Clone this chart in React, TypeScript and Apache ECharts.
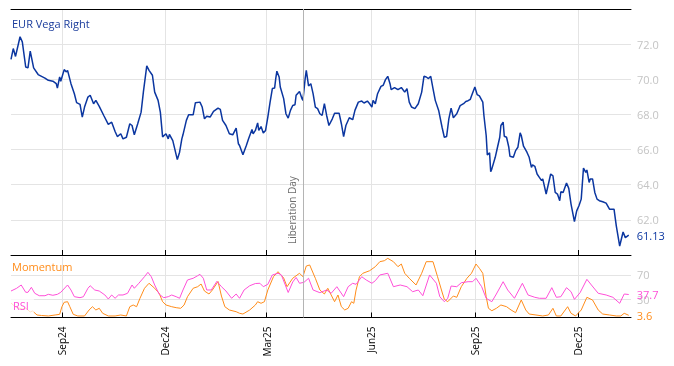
import React, { useEffect, useRef } from "react";
import * as echarts from "echarts";

// ---------- data ----------
const vegaDates = [
  "2024-07-18","2024-07-20","2024-07-22","2024-07-26","2024-07-28","2024-07-31","2024-08-02","2024-08-04","2024-08-07","2024-08-11",
  "2024-08-14","2024-08-17","2024-08-20","2024-08-24","2024-08-27","2024-08-28","2024-08-30","2024-08-31","2024-09-03","2024-09-05",
  "2024-09-06","2024-09-09","2024-09-12","2024-09-14","2024-09-17","2024-09-19","2024-09-21","2024-09-24","2024-09-26","2024-09-29",
  "2024-10-01","2024-10-04","2024-10-08","2024-10-12","2024-10-15","2024-10-18","2024-10-20","2024-10-23","2024-10-25","2024-10-28",
  "2024-10-31","2024-11-02","2024-11-04","2024-11-07","2024-11-10","2024-11-12","2024-11-15","2024-11-17","2024-11-20","2024-11-22",
  "2024-11-25","2024-11-27","2024-11-29","2024-12-02","2024-12-04","2024-12-05","2024-12-08","2024-12-12","2024-12-14","2024-12-16",
  "2024-12-17","2024-12-20","2024-12-22","2024-12-26","2024-12-28","2025-01-01","2025-01-03","2025-01-05","2025-01-07","2025-01-10",
  "2025-01-13","2025-01-17","2025-01-19","2025-01-21","2025-01-24","2025-01-27","2025-01-30","2025-02-02","2025-02-04","2025-02-05",
  "2025-02-08","2025-02-11","2025-02-13","2025-02-16","2025-02-17","2025-02-19","2025-02-21","2025-02-22","2025-02-24","2025-02-26",
  "2025-02-28","2025-03-02","2025-03-04","2025-03-06","2025-03-08","2025-03-09","2025-03-10","2025-03-12","2025-03-13","2025-03-16",
  "2025-03-18","2025-03-20","2025-03-22","2025-03-24","2025-03-26","2025-03-27","2025-03-30","2025-04-01","2025-04-02","2025-04-04",
  "2025-04-05","2025-04-07","2025-04-09","2025-04-11","2025-04-13","2025-04-15","2025-04-17","2025-04-19","2025-04-21","2025-04-23",
  "2025-04-25","2025-04-28","2025-04-30","2025-05-04","2025-05-06","2025-05-08","2025-05-10","2025-05-13","2025-05-16","2025-05-18",
  "2025-05-21","2025-05-24","2025-05-26","2025-05-29","2025-05-31","2025-06-02","2025-06-03","2025-06-05","2025-06-07","2025-06-10",
  "2025-06-12","2025-06-14","2025-06-16","2025-06-18","2025-06-19","2025-06-22","2025-06-25","2025-06-28","2025-07-01","2025-07-03",
  "2025-07-05","2025-07-07","2025-07-10","2025-07-13","2025-07-16","2025-07-18","2025-07-20","2025-07-22","2025-07-24","2025-07-26",
  "2025-07-28","2025-07-31","2025-08-03","2025-08-05","2025-08-07","2025-08-09","2025-08-11","2025-08-13","2025-08-16","2025-08-19",
  "2025-08-22","2025-08-24","2025-08-26","2025-08-28","2025-08-29","2025-09-01","2025-09-03","2025-09-05","2025-09-08","2025-09-09",
  "2025-09-11","2025-09-12","2025-09-14","2025-09-15","2025-09-16","2025-09-19","2025-09-21","2025-09-23","2025-09-24","2025-09-26",
  "2025-09-27","2025-09-29","2025-10-01","2025-10-02","2025-10-05","2025-10-07","2025-10-09","2025-10-11","2025-10-12","2025-10-14",
  "2025-10-17","2025-10-19","2025-10-21","2025-10-22","2025-10-24","2025-10-26","2025-10-28","2025-10-30","2025-10-31","2025-11-03",
  "2025-11-05","2025-11-07","2025-11-09","2025-11-11","2025-11-13","2025-11-15","2025-11-16","2025-11-18","2025-11-21","2025-11-23",
  "2025-11-25","2025-11-28","2025-11-30","2025-12-02","2025-12-04","2025-12-06","2025-12-08","2025-12-09","2025-12-11","2025-12-12",
  "2025-12-14","2025-12-16","2025-12-18","2025-12-20","2025-12-23","2025-12-26","2025-12-29","2026-01-02","2026-01-04","2026-01-07",
  "2026-01-10","2026-01-12","2026-01-15"
];
const vegaValues = [
  71.13,71.75,71.30,72.42,72.13,70.70,70.65,71.60,70.65,70.27,
  70.17,70.07,69.94,69.89,69.75,69.50,70.13,69.89,70.55,70.42,
  70.51,69.75,69.18,68.67,68.57,67.85,68.42,68.99,69.09,68.61,
  68.80,68.46,67.94,67.43,67.56,67.03,66.74,66.90,66.61,66.70,
  67.47,67.37,66.84,67.47,68.13,69.27,70.76,70.51,70.23,69.27,
  68.80,68.13,66.72,66.90,66.61,66.86,66.51,65.43,65.85,66.61,
  66.84,67.66,67.98,67.98,68.67,68.70,68.42,67.75,67.90,67.85,
  68.17,68.36,68.29,67.66,67.37,66.90,66.84,67.22,66.33,66.23,
  65.71,66.23,66.61,67.14,66.90,67.09,67.52,67.09,67.31,66.95,
  67.09,67.85,68.70,69.47,69.50,70.04,70.46,70.13,69.56,68.90,
  68.04,67.79,68.23,68.51,68.55,69.09,69.31,68.93,68.80,70.04,
  70.51,69.62,69.75,69.18,68.42,68.33,68.04,67.94,68.61,67.94,
  67.37,67.75,68.07,68.07,67.47,66.74,67.37,67.81,67.70,68.23,
  68.70,68.76,68.65,68.76,68.61,68.42,68.80,68.61,69.18,69.60,
  69.66,69.98,70.17,69.75,69.41,69.53,69.41,69.53,69.27,69.47,
  68.70,68.42,68.33,68.61,69.27,70.17,70.13,70.04,70.17,69.47,
  68.80,68.23,67.27,66.70,66.74,67.75,68.36,67.81,68.04,68.50,
  68.61,68.74,68.78,68.86,69.05,69.56,69.13,69.05,68.70,67.94,
  66.80,65.70,65.81,64.74,64.90,65.56,66.13,66.70,67.37,67.56,
  66.76,66.70,66.13,65.62,65.56,65.94,66.13,66.95,66.80,66.19,
  65.85,65.56,64.99,65.13,65.05,64.61,64.42,64.23,64.33,63.47,
  64.04,64.61,64.51,63.56,63.47,63.09,63.60,63.56,64.10,63.79,
  62.90,61.90,62.51,62.80,63.18,64.95,64.70,64.84,64.13,64.33,
  64.33,63.56,63.18,63.09,63.03,62.95,62.61,62.61,61.66,60.51,
  61.31,60.99,61.13
];

const momentumDates = [
  "2024-07-18","2024-07-22","2024-07-28","2024-07-31","2024-08-04","2024-08-06","2024-08-10","2024-08-14","2024-08-20","2024-08-26",
  "2024-08-30","2024-09-01","2024-09-03","2024-09-06","2024-09-08","2024-09-11","2024-09-15","2024-09-21","2024-09-25","2024-09-28",
  "2024-10-01","2024-10-04","2024-10-07","2024-10-12","2024-10-18","2024-10-23","2024-10-28","2024-10-31","2024-11-03","2024-11-06",
  "2024-11-09","2024-11-13","2024-11-17","2024-11-22","2024-11-26","2024-11-29","2024-12-02","2024-12-07","2024-12-11","2024-12-15",
  "2024-12-18","2024-12-21","2024-12-26","2024-12-30","2025-01-02","2025-01-05","2025-01-09","2025-01-12","2025-01-17","2025-01-20",
  "2025-01-23","2025-01-27","2025-02-02","2025-02-05","2025-02-08","2025-02-14","2025-02-19","2025-02-21","2025-02-24","2025-02-27",
  "2025-03-02","2025-03-07","2025-03-11","2025-03-16","2025-03-19","2025-03-24","2025-03-30","2025-04-02","2025-04-05","2025-04-08",
  "2025-04-13","2025-04-17","2025-04-21","2025-04-24","2025-04-27","2025-04-30","2025-05-03","2025-05-06","2025-05-09","2025-05-12",
  "2025-05-15","2025-05-17","2025-05-19","2025-05-22","2025-05-25","2025-05-31","2025-06-05","2025-06-09","2025-06-13","2025-06-16",
  "2025-06-21","2025-06-25","2025-06-28","2025-07-01","2025-07-05","2025-07-11","2025-07-16","2025-07-20","2025-07-26","2025-07-30",
  "2025-08-03","2025-08-05","2025-08-08","2025-08-13","2025-08-16","2025-08-20","2025-08-25","2025-08-29","2025-09-02","2025-09-05",
  "2025-09-08","2025-09-11","2025-09-13","2025-09-16","2025-09-20","2025-09-24","2025-09-29","2025-10-03","2025-10-07","2025-10-12",
  "2025-10-16","2025-10-19","2025-10-25","2025-10-31","2025-11-05","2025-11-09","2025-11-12","2025-11-16","2025-11-22","2025-11-25",
  "2025-11-29","2025-12-04","2025-12-09","2025-12-14","2025-12-19","2025-12-23","2025-12-29","2026-01-04","2026-01-08","2026-01-11",
  "2026-01-15"
];
const momentumValues = [
  23.8,17.2,13.9,15.6,9.0,10.7,4.1,3.3,2.5,4.1,
  5.2,17.7,24.9,25.9,17.7,5.2,2.5,2.5,12.3,17.7,
  12.3,15.1,6.9,2.5,2.5,4.1,2.5,17.7,20.5,17.7,
  31.5,47.9,56.1,47.9,39.7,25.9,20.5,17.7,16.1,15.1,
  20.5,34.1,47.9,50.5,54.9,43.4,38.5,45.1,59.0,35.2,
  17.7,12.3,9.5,6.9,5.7,12.3,20.5,25.9,23.3,25.9,
  45.1,66.9,75.1,64.8,50.5,64.3,72.5,66.9,84.4,86.1,
  64.3,45.1,38.5,47.9,36.9,25.9,36.9,17.7,12.3,15.1,
  25.9,23.3,45.1,66.9,72.5,76.7,83.3,91.5,93.1,97.0,
  91.5,83.3,87.7,72.5,64.3,53.3,72.5,91.5,91.5,66.9,
  41.8,29.8,25.9,35.2,33.1,50.5,64.3,72.5,87.7,80.7,
  72.5,34.1,15.1,11.1,15.1,20.5,17.7,12.3,7.9,28.7,
  12.3,5.7,4.1,2.5,4.1,15.1,2.5,2.5,17.7,6.9,
  2.5,12.3,33.1,28.7,12.3,5.7,4.1,2.5,2.5,6.9,
  3.6
];

const rsiDates = [
  "2024-07-18","2024-07-23","2024-07-27","2024-07-31","2024-08-02","2024-08-05","2024-08-08","2024-08-12","2024-08-17","2024-08-20",
  "2024-08-24","2024-08-28","2024-08-31","2024-09-06","2024-09-09","2024-09-12","2024-09-17","2024-09-20","2024-09-24","2024-09-26",
  "2024-09-30","2024-10-04","2024-10-09","2024-10-12","2024-10-15","2024-10-18","2024-10-21","2024-10-25","2024-10-29","2024-11-02",
  "2024-11-04","2024-11-08","2024-11-13","2024-11-16","2024-11-19","2024-11-22","2024-11-26","2024-11-30","2024-12-04","2024-12-07",
  "2024-12-11","2024-12-14","2024-12-17","2024-12-21","2024-12-26","2024-12-30","2025-01-01","2025-01-04","2025-01-07","2025-01-11",
  "2025-01-16","2025-01-20","2025-01-24","2025-01-29","2025-02-02","2025-02-05","2025-02-09","2025-02-14","2025-02-19","2025-02-23",
  "2025-02-26","2025-03-02","2025-03-06","2025-03-11","2025-03-14","2025-03-20","2025-03-24","2025-03-27","2025-03-30","2025-04-03",
  "2025-04-07","2025-04-11","2025-04-17","2025-04-23","2025-04-27","2025-05-02","2025-05-08","2025-05-12","2025-05-16","2025-05-19",
  "2025-05-24","2025-05-28","2025-06-02","2025-06-05","2025-06-09","2025-06-16","2025-06-21","2025-06-27","2025-07-03","2025-07-08",
  "2025-07-13","2025-07-17","2025-07-23","2025-07-29","2025-08-01","2025-08-05","2025-08-08","2025-08-11","2025-08-16","2025-08-20",
  "2025-08-26","2025-08-30","2025-09-02","2025-09-07","2025-09-11","2025-09-16","2025-09-20","2025-09-26","2025-09-30","2025-10-06",
  "2025-10-13","2025-10-18","2025-10-24","2025-10-28","2025-11-03","2025-11-08","2025-11-12","2025-11-16","2025-11-21","2025-11-25",
  "2025-11-28","2025-12-03","2025-12-09","2025-12-13","2025-12-19","2025-12-26","2026-01-01","2026-01-07","2026-01-11","2026-01-15"
];
const rsiValues = [
  43.4,47.9,53.3,41.3,41.3,49.5,39.7,35.7,35.7,38.0,
  36.4,38.0,41.3,53.3,45.1,34.1,32.5,34.1,47.9,52.1,
  45.1,43.4,36.9,30.3,36.9,31.5,36.9,36.9,39.7,53.3,
  47.9,56.1,66.9,74.1,66.9,53.3,38.0,32.5,34.1,36.9,
  34.1,31.5,45.1,61.5,64.3,68.5,70.8,64.3,45.1,45.1,
  59.3,50.5,43.4,31.5,38.5,31.5,45.1,52.1,55.7,56.1,
  50.5,54.4,69.7,72.5,69.7,41.0,58.2,65.6,56.1,57.7,
  64.3,45.1,40.7,45.1,39.7,50.5,34.1,50.5,56.1,54.4,
  66.9,61.5,56.1,60.3,69.7,72.5,50.5,53.3,50.5,42.3,
  45.1,35.7,69.7,56.1,34.1,25.9,31.5,51.6,50.5,57.0,
  58.7,58.7,64.3,50.5,31.5,25.9,38.5,58.7,45.1,31.5,
  56.1,36.9,33.1,31.5,31.5,48.9,33.1,34.1,48.9,42.3,
  29.8,40.7,62.6,53.3,39.7,36.9,33.1,23.3,38.5,37.7
];

const tickDates = ["2024-09-01","2024-12-01","2025-03-01","2025-06-01","2025-09-01","2025-12-01"];
const tickLabels = ["Sep24","Dec24","Mar25","Jun25","Sep25","Dec25"];
const axisStart = "2024-07-18";
const axisEnd = "2026-01-17";
const eventDate = "2025-04-02";
const eventLabel = "Liberation Day";
const oscTicks = [30, 70];

// ---------- helpers ----------
function toTime(s: string): number {
  const [y, m, d] = s.split("-").map(Number);
  return Date.UTC(y, m - 1, d);
}
const FONT = '"Open Sans", "Noto Sans", sans-serif';
const BLUE = "#0b36a0";
const ORANGE = "#ff8c1a";
const PINK = "#ff4fd8";
const GRID = "#e4e4e4";
const AXISLBL = "#c4c4c4";

export default function App() {
  const ref = useRef<HTMLDivElement>(null);
  useEffect(() => {
    if (!ref.current) return;
    const chart = echarts.init(ref.current, null, { renderer: "svg" });
    const tickTimes = tickDates.map(toTime);
    const xMin = toTime(axisStart);
    const xMax = toTime(axisEnd);
    const fmtX = (v: number) => {
      const i = tickTimes.indexOf(v);
      return i >= 0 ? tickLabels[i] : "";
    };
    const pairs = (ds: string[], vs: number[]) => ds.map((d, i) => [toTime(d), vs[i]]);

    const baseX = {
      type: "value",
      min: xMin,
      max: xMax,
      axisLine: { show: true, onZero: false, lineStyle: { color: "#000", width: 1 } },
      axisTick: { show: true, inside: true, length: 5, customValues: tickTimes, lineStyle: { color: "#000" } },
      splitLine: { show: true, lineStyle: { color: GRID, width: 1 } },
    };

    const option: any = {
      animation: false,
      textStyle: { fontFamily: FONT },
      title: [
        { text: "EUR Vega Right", left: 12, top: 18, padding: 0, textStyle: { fontSize: 11, fontWeight: "normal", color: "#1a3c9c", fontFamily: FONT } },
        { text: "Momentum", left: 12, top: 261, padding: 0, textStyle: { fontSize: 11, fontWeight: "normal", color: ORANGE, fontFamily: FONT } },
        { text: "RSI", left: 9, top: 298, padding: [2, 5, 2, 4], backgroundColor: "rgba(255,255,255,0.75)", textStyle: { fontSize: 11, fontWeight: "normal", color: PINK, fontFamily: FONT } },
      ],
      grid: [
        { left: 11, right: 43, top: 9, height: 246, outerBoundsMode: "none" },
        { left: 11, right: 43, top: 256.5, height: 61, outerBoundsMode: "none" },
      ],
      xAxis: [
        { ...baseX, gridIndex: 0, axisLabel: { show: false, customValues: tickTimes } },
        { type: "value", gridIndex: 0, position: "top", min: xMin, max: xMax, axisLine: { show: true, onZero: false, lineStyle: { color: "#000", width: 1 } }, axisTick: { show: false }, axisLabel: { show: false }, splitLine: { show: false } },
        { ...baseX, gridIndex: 1, axisLabel: { show: true, customValues: tickTimes, formatter: fmtX, rotate: 90, fontSize: 10, color: "#000", margin: 9, fontFamily: FONT } },
      ],
      yAxis: [
        {
          type: "value", gridIndex: 0, position: "right", min: 60, max: 74, interval: 2,
          axisLine: { show: false }, axisTick: { show: false },
          axisLabel: { formatter: (v: number) => v.toFixed(1), color: AXISLBL, fontSize: 11, margin: 6, showMinLabel: false, showMaxLabel: false, fontFamily: FONT },
          splitLine: { show: true, lineStyle: { color: GRID } },
        },
        {
          type: "value", gridIndex: 1, position: "right", min: 0, max: 100,
          axisLine: { show: false }, axisTick: { show: false, customValues: oscTicks },
          axisLabel: { customValues: oscTicks, color: AXISLBL, fontSize: 11, margin: 6, fontFamily: FONT },
          splitLine: { show: true, lineStyle: { color: GRID } },
        },
      ],
      series: [
        {
          type: "line", name: "EUR Vega Right", xAxisIndex: 0, yAxisIndex: 0,
          data: pairs(vegaDates, vegaValues), showSymbol: false, symbol: "none",
          lineStyle: { color: BLUE, width: 1.5 }, itemStyle: { color: BLUE }, z: 3,
          endLabel: { show: true, formatter: (p: any) => Number(p.value[1]).toFixed(2), color: BLUE, fontSize: 11, distance: 8, fontFamily: FONT },
          markLine: {
            symbol: "none", silent: true, animation: false,
            lineStyle: { color: "#b4b4b4", width: 1, type: "solid" },
            label: { show: true, formatter: eventLabel, position: "insideStartTop", color: "#6e6e6e", fontSize: 10, distance: [11, 6], fontFamily: FONT },
            data: [{ xAxis: toTime(eventDate) }],
          },
        },
        {
          type: "line", name: "Momentum", xAxisIndex: 2, yAxisIndex: 1,
          data: pairs(momentumDates, momentumValues), showSymbol: false, symbol: "none",
          lineStyle: { color: ORANGE, width: 1 }, itemStyle: { color: ORANGE }, z: 2,
          endLabel: { show: true, formatter: (p: any) => Number(p.value[1]).toFixed(1), color: ORANGE, fontSize: 11, distance: 8, fontFamily: FONT },
          markLine: {
            symbol: "none", silent: true, animation: false,
            lineStyle: { color: "#b4b4b4", width: 1, type: "solid" },
            label: { show: false },
            data: [{ xAxis: toTime(eventDate) }],
          },
        },
        {
          type: "line", name: "RSI", xAxisIndex: 2, yAxisIndex: 1,
          data: pairs(rsiDates, rsiValues), showSymbol: false, symbol: "none",
          lineStyle: { color: PINK, width: 1 }, itemStyle: { color: PINK }, z: 3,
          endLabel: { show: true, formatter: (p: any) => Number(p.value[1]).toFixed(1), color: PINK, fontSize: 11, distance: 8, fontFamily: FONT },
        },
      ],
    };
    chart.setOption(option);
    return () => chart.dispose();
  }, []);
  return <div ref={ref} style={{ position: "fixed", left: 0, top: 0, width: 674, height: 366 }} />;
}
